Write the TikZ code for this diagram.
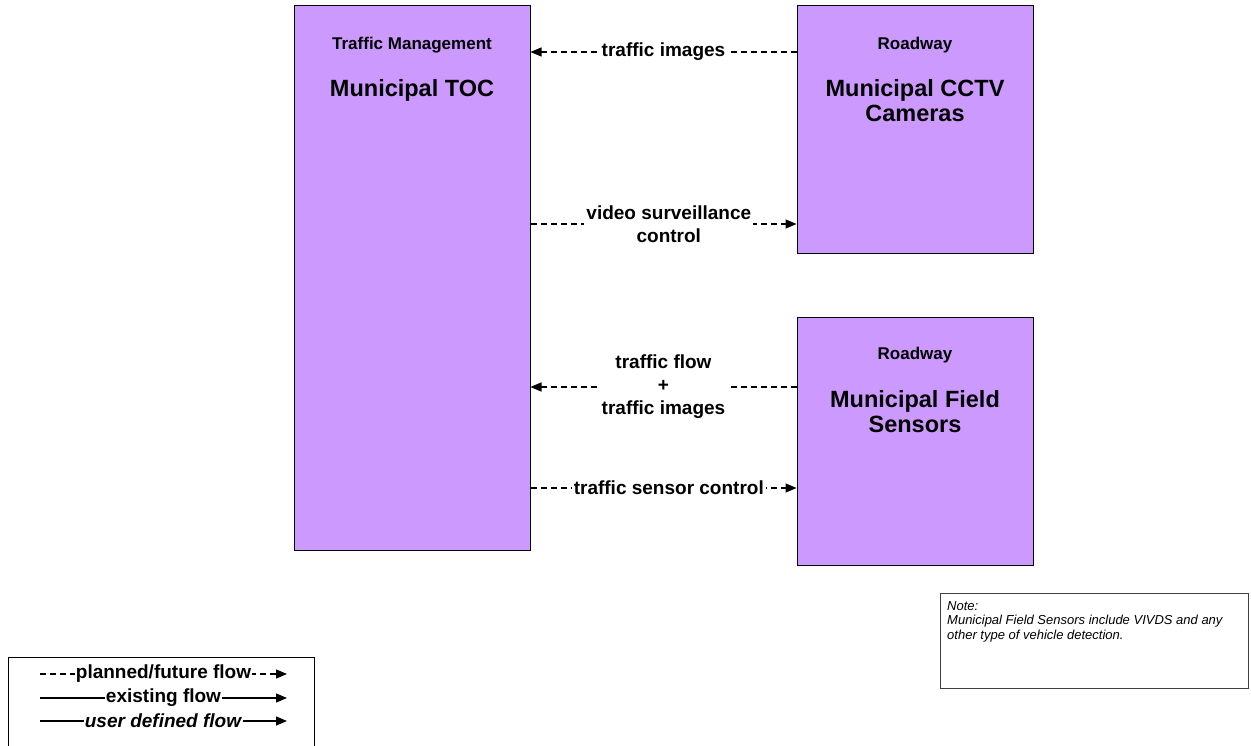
\documentclass[tikz,border=0pt]{standalone}
\usepackage{fontspec}
\setmainfont{Liberation Sans}
\usetikzlibrary{arrows.meta,positioning}
\definecolor{boxpurple}{HTML}{CC99FF}

\begin{document}
\begin{tikzpicture}[x=1pt,y=-1pt,
    sysbox/.style={draw=black, line width=1pt, fill=boxpurple, minimum width=236pt, inner sep=0pt},
    kindtext/.style={font=\fontsize{17}{20}\selectfont\bfseries, inner sep=0pt},
    nametext/.style={font=\fontsize{23.5}{25}\selectfont\bfseries, align=center, inner sep=0pt},
    flow/.style={draw, line width=1.3pt, dash pattern=on 6pt off 4pt, -{Triangle[length=11pt,width=9pt]}},
    flowlabel/.style={fill=white, inner sep=2pt, font=\fontsize{19}{23}\selectfont\bfseries, align=center},
    legsolid/.style={draw, line width=1.3pt, -{Triangle[length=11pt,width=9pt]}},
    legdash/.style={legsolid, dash pattern=on 6pt off 4pt}]
  \useasboundingbox (0,0) rectangle (1251,746);

  % systems
  \node[sysbox, minimum height=544pt] (toc) at (412,278) {};
  \node[sysbox, minimum height=248pt] (cctv) at (915,130) {};
  \node[sysbox, minimum height=248pt] (field) at (915,441) {};

  \node[kindtext] (tockind) at (412,45) {Traffic Management};
  \node[nametext] (tocname) at (412,90) {Municipal TOC};
  \node[kindtext] (cctvkind) at (915,45) {Roadway};
  \node[nametext] (cctvname) at (915,101) {Municipal CCTV\\Cameras};
  \node[kindtext] (fieldkind) at (915,355) {Roadway};
  \node[nametext] (fieldname) at (915,412) {Municipal Field\\Sensors};

  % flows
  \draw[flow] (cctv.west |- 0,52) -- node[flowlabel] {traffic images} (toc.east |- 0,52);
  \draw[flow] (toc.east |- 0,224) -- node[flowlabel, pos=0.52] {video surveillance\\control} (cctv.west |- 0,224);
  \draw[flow] (field.west |- 0,387) -- node[flowlabel] {traffic flow\\+\\traffic images} (toc.east |- 0,387);
  \draw[flow] (toc.east |- 0,488) -- node[flowlabel, pos=0.52] {traffic sensor control} (field.west |- 0,488);

  % legend
  \node[draw, line width=0.8pt, minimum width=306pt, minimum height=110pt, anchor=north west, inner sep=0pt] (legend) at (8,657) {};
  \foreach \y/\pat/\txt [count=\i] in {674/legdash/{planned/future flow}, 698/legsolid/{existing flow}, 721/legsolid/{\textit{user defined flow}}}
  {
    \coordinate (leg\i a) at (40,\y);
    \coordinate (leg\i b) at (287,\y);
    \draw[\pat] (leg\i a) -- node[flowlabel, inner sep=1pt] {\txt} (leg\i b);
  }

  % note
  \node[draw=black!75, line width=0.8pt, minimum width=308pt, minimum height=95pt, anchor=north west, inner sep=0pt] (note) at (940,593) {};
  \node[anchor=north west, font=\fontsize{13}{14.5}\selectfont\itshape, align=left, inner sep=0pt] (notetext) at ([xshift=7pt,yshift=-8pt]note.north west)
    {Note:\\Municipal Field Sensors include VIVDS and any\\other type of vehicle detection.};
\end{tikzpicture}
\end{document}
